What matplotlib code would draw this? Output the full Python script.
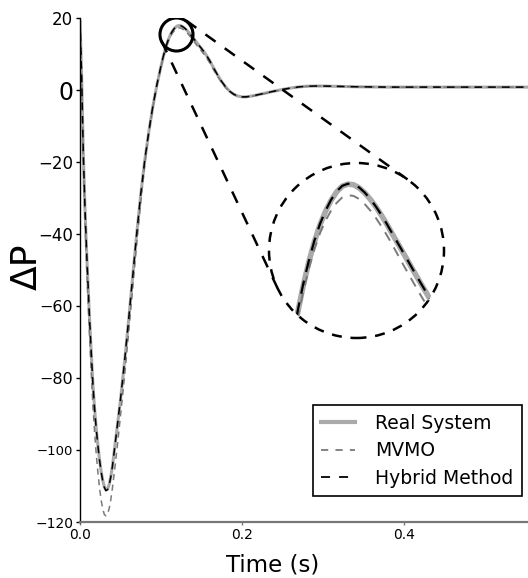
import numpy as np
import matplotlib
matplotlib.use("Agg")
import matplotlib.pyplot as plt
from matplotlib.patches import Circle
from matplotlib.lines import Line2D
from matplotlib.transforms import IdentityTransform

# ---------------------------------------------------------------- data
time_s = [0.000, 0.002, 0.004, 0.006, 0.008, 0.010, 0.012, 0.014, 0.016, 0.018,
          0.020, 0.022, 0.024, 0.026, 0.028, 0.030, 0.032, 0.034, 0.036, 0.038,
          0.040, 0.043, 0.046, 0.050, 0.055, 0.060, 0.065, 0.070, 0.075, 0.080,
          0.085, 0.090, 0.095,
          0.100, 0.102, 0.104, 0.106, 0.108, 0.110, 0.112, 0.114, 0.116, 0.118,
          0.120, 0.122, 0.124, 0.126, 0.128, 0.130, 0.132, 0.134, 0.136, 0.138,
          0.140, 0.142, 0.144, 0.146, 0.148, 0.150, 0.152,
          0.155, 0.160, 0.165, 0.170,
          0.175, 0.180, 0.185, 0.190, 0.195, 0.200, 0.205, 0.210, 0.220, 0.230,
          0.240, 0.250, 0.260, 0.270, 0.280, 0.290, 0.300, 0.320, 0.340, 0.360,
          0.380, 0.400, 0.430, 0.460, 0.500, 0.553]

real_system = [19.5, 4.0, -17.0, -32.0, -44.0, -54.5, -64.5, -73.5, -82.0, -88.5,
               -94.0, -98.5, -102.5, -105.8, -108.4, -110.2, -111.1, -110.9, -109.6, -107.4,
               -104.6, -99.0, -93.5, -86.0, -75.5, -64.0, -52.0, -40.0, -29.0, -19.5,
               -11.5, -4.5, 1.5,
               6.6, 8.5, 10.3, 11.9, 13.3, 14.5, 15.5, 16.3, 16.95, 17.45,
               17.78, 17.9, 17.86, 17.68, 17.38, 17.0, 16.55, 16.05, 15.5, 14.92,
               14.35, 13.78, 13.2, 12.62, 12.05, 11.5, 10.92,
               10.0, 8.2, 6.1, 4.1,
               2.3, 0.8, -0.4, -1.2, -1.7, -1.9, -1.9, -1.75, -1.3, -0.8,
               -0.3, 0.15, 0.55, 0.85, 1.05, 1.1, 1.1, 1.0, 0.9, 0.85,
               0.8, 0.8, 0.8, 0.8, 0.8, 0.8]

mvmo = [19.5, 3.0, -19.0, -35.0, -48.0, -59.0, -69.5, -79.0, -88.0, -95.0,
        -101.0, -106.0, -110.3, -113.8, -116.3, -117.9, -118.3, -117.8, -116.3, -113.8,
        -110.6, -105.0, -99.0, -90.5, -79.5, -67.5, -55.0, -42.5, -31.0, -20.5,
        -12.0, -4.8, 1.3,
        6.3, 8.2, 10.0, 11.55, 12.9, 14.05, 15.0, 15.75, 16.35, 16.8,
        17.12, 17.25, 17.2, 17.02, 16.72, 16.34, 15.9, 15.4, 14.86, 14.28,
        13.68, 13.08, 12.5, 11.92, 11.35, 10.8, 10.22,
        9.35, 7.6, 5.6, 3.7,
        2.0, 0.6, -0.5, -1.3, -1.8, -2.0, -2.0, -1.85, -1.4, -0.9,
        -0.4, 0.1, 0.5, 0.8, 1.0, 1.1, 1.1, 1.0, 0.9, 0.85,
        0.8, 0.8, 0.8, 0.8, 0.8, 0.8]

hybrid = [19.5, 4.1, -16.8, -31.8, -43.9, -54.4, -64.4, -73.4, -81.9, -88.5,
          -94.0, -98.6, -102.6, -105.9, -108.5, -110.4, -111.3, -111.0, -109.7, -107.5,
          -104.6, -99.0, -93.4, -85.9, -75.4, -63.9, -51.9, -39.9, -28.9, -19.4,
          -11.4, -4.4, 1.6,
          6.7, 8.6, 10.4, 12.0, 13.38, 14.56, 15.55, 16.34, 16.98, 17.48,
          17.8, 17.92, 17.88, 17.7, 17.4, 17.02, 16.57, 16.07, 15.52, 14.94,
          14.37, 13.8, 13.22, 12.64, 12.07, 11.52, 10.94,
          10.02, 8.2, 6.1, 4.1,
          2.3, 0.8, -0.4, -1.2, -1.7, -1.9, -1.9, -1.75, -1.3, -0.8,
          -0.3, 0.15, 0.55, 0.85, 1.05, 1.1, 1.1, 1.0, 0.9, 0.85,
          0.8, 0.8, 0.8, 0.8, 0.8, 0.8]

series_labels = ["Real System", "MVMO", "Hybrid Method"]
y_ticks = [-120, -100, -80, -60, -40, -20, 0, 20]
y_tick_sizes = [10, 9.5, 11.5, 11.5, 12, 12, 17, 12]
x_ticks = [0.0, 0.2, 0.4]
x_tick_labels = ["0.0", "0.2", "0.4"]

# ---------------------------------------------------------------- figure
W, H = 528, 578
fig = plt.figure(figsize=(W / 100, H / 100), dpi=100)
ax = fig.add_axes([80 / W, (H - 522) / H, 448 / W, 504 / H])
ax.set_xlim(0, 0.553)
ax.set_ylim(-120, 20)

real_style = dict(color="#aaaaaa", lw=2.2, solid_capstyle="butt")
mvmo_style = dict(color="#7a7a7a", lw=1.1, dashes=(4, 3))
hyb_style = dict(color="black", lw=1.1, dashes=(5, 4))

ax.plot(time_s, real_system, **real_style)
ax.plot(time_s, mvmo, **mvmo_style)
ax.plot(time_s, hybrid, **hyb_style)

for s in ("top", "right"):
    ax.spines[s].set_visible(False)
ax.spines["left"].set_color("black")
ax.spines["left"].set_linewidth(1.0)
ax.spines["bottom"].set_color("#777777")
ax.spines["bottom"].set_linewidth(1.6)

ax.set_yticks(y_ticks)
ax.set_yticklabels([str(v).replace("-", "\u2212") for v in y_ticks])
for lbl, fs in zip(ax.get_yticklabels(), y_tick_sizes):
    lbl.set_fontsize(fs)
ax.tick_params(axis="y", direction="out", length=3, width=1, pad=2)
ax.set_xticks(x_ticks)
ax.set_xticklabels(x_tick_labels, fontsize=10)
ax.tick_params(axis="x", direction="out", length=2.5, width=1, color="#777777", pad=2)

fig.text(27 / W, 1 - 267 / H, "ΔP", rotation=90, fontsize=26,
         ha="center", va="center")
fig.text(273 / W, 1 - 565 / H, "Time (s)", fontsize=16.5,
         ha="center", va="center")

# small marker circle around the peak
peak_t, peak_p = 0.1191, 15.56
ax.plot([peak_t], [peak_p], marker="o", ms=23.8, mfc="none", mec="black",
        mew=2.2, ls="none", zorder=5)

# magnified view inside a dashed circle
R_in = 87.5
cx, cy = 356.5, H - 250.5
ax_in = fig.add_axes([(cx - R_in) / W, (cy - R_in) / H, 2 * R_in / W, 2 * R_in / H])
ax_in.set_xlim(0.0938, 0.1563)
ax_in.set_ylim(8.84, 19.14)
ax_in.axis("off")
clip_circle = Circle((0.5, 0.5), 0.5, transform=ax_in.transAxes)
for y, st in ((real_system, dict(real_style, lw=4.0)),
              (mvmo, dict(mvmo_style, lw=1.4, dashes=(5, 4))),
              (hybrid, dict(hyb_style, lw=1.6, dashes=(6, 4)))):
    ln, = ax_in.plot(time_s, y, **st)
    ln.set_clip_path(clip_circle)
ax_in.add_patch(Circle((0.5, 0.5), 0.5, transform=ax_in.transAxes, fill=False,
                       ec="black", lw=1.8, ls=(0, (4, 3.5)), clip_on=False))

# external tangent lines joining the two circles (display coordinates)
fig.canvas.draw()
c1 = np.array(ax.transData.transform((peak_t, peak_p)))
r1 = 23.8 * 100 / 72 / 2
c2 = np.array(ax_in.transAxes.transform((0.5, 0.5)))
r2 = R_in
d = np.linalg.norm(c2 - c1)
u = (c2 - c1) / d
theta = np.arccos((r1 - r2) / d)
for sgn in (1, -1):
    a = sgn * theta
    n = np.array([u[0] * np.cos(a) - u[1] * np.sin(a),
                  u[0] * np.sin(a) + u[1] * np.cos(a)])
    p1 = c1 + r1 * n
    p2 = c2 + r2 * n
    fig.add_artist(Line2D([p1[0], p2[0]], [p1[1], p2[1]], transform=IdentityTransform(),
                          color="black", lw=1.8, ls=(0, (5, 4.5))))

handles = [Line2D([], [], color="#aaaaaa", lw=3),
           Line2D([], [], color="#7a7a7a", lw=1.3, dashes=(4, 4)),
           Line2D([], [], color="black", lw=1.3, dashes=(5, 5))]
leg = fig.legend(handles, series_labels, loc="lower right",
                 bbox_to_anchor=(522 / W, (H - 496) / H), borderaxespad=0,
                 fontsize=13.5, fancybox=False, framealpha=1, edgecolor="black",
                 handlelength=1.8, labelspacing=0.45, borderpad=0.45, handletextpad=1.1)
leg.get_frame().set_linewidth(1.2)

fig.savefig("out.png", dpi=100)
